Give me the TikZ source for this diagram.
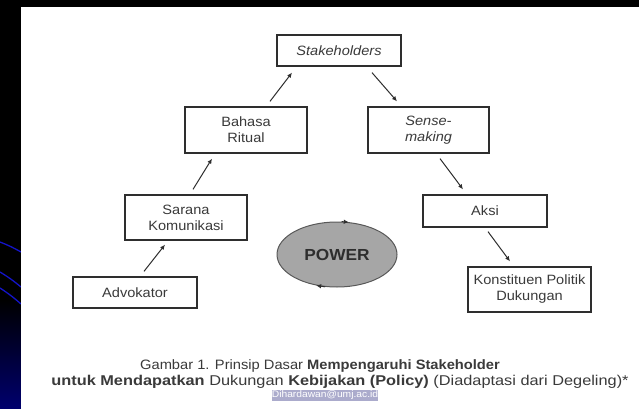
\documentclass[tikz,border=0pt]{standalone}
\usepackage{fontspec}
\setmainfont{Liberation Sans}
\usetikzlibrary{shapes.geometric,arrows.meta}
\definecolor{ink}{HTML}{3A3A3A}
\definecolor{frame}{HTML}{2E2E2E}
\definecolor{powerfill}{HTML}{A6A6A6}
\definecolor{navy}{HTML}{00006E}
\definecolor{curve}{HTML}{1414C8}
\definecolor{tag}{HTML}{A4A4C8}
\newfontfamily\widefont[FakeStretch=1.08]{Liberation Sans}
\newfontfamily\capfont[FakeStretch=1.15]{Liberation Sans}
\begin{document}
\begin{tikzpicture}[x=1pt,y=-1pt,
  box/.style={draw=frame,line width=1.3pt,fill=white,inner sep=0pt,align=center,
    text=ink,font=\widefont\fontsize{13.5}{16}\selectfont},
  conn/.style={draw=frame,line width=1pt,-{Latex[length=5pt,width=4.5pt]}},
  captext/.style={text=ink,inner sep=0pt},
  arc tip/.style={draw=frame,line width=0.9pt,-{Latex[length=5pt,width=4.5pt]}}
]
\useasboundingbox (0,0) rectangle (639,409);
% slide background with its blue swooshes
\fill[black] (0,0) rectangle (639,409);
\shade[top color=black,bottom color=navy] (0,300) rectangle (21,409);
\draw[curve,line width=1.3pt] (0,242) to[bend left=4] (21,252);
\draw[curve,line width=1.3pt] (0,272) to[bend left=4] (21,287);
\draw[curve,line width=1.3pt] (0,288) to[bend left=4] (21,304);
% white figure panel
\fill[white] (21,7) rectangle (639,409);

% boxes
\node[box,minimum width=124pt,minimum height=31pt] (stk) at (339,50.5) {\itshape Stakeholders};
\node[box,minimum width=122pt,minimum height=46pt] (bah) at (246,130) {Bahasa\\Ritual};
\node[box,minimum width=121pt,minimum height=46pt] (sen) at (428.5,130) {\itshape Sense-\\\itshape making};
\node[box,minimum width=122pt,minimum height=45pt] (sar) at (186,217.5) {Sarana\\Komunikasi};
\node[box,minimum width=124pt,minimum height=31pt] (adv) at (135,292.5) {Advokator};
\node[box,minimum width=124pt,minimum height=32pt] (aks) at (485,211) {Aksi};
\node[box,minimum width=123pt,minimum height=45pt] (kon) at (529.5,289.5) {Konstituen Politik\\Dukungan};
\node[ellipse,draw=frame!80,line width=1pt,fill=powerfill,minimum width=120pt,minimum height=65pt,
  inner sep=0pt,text=frame,font=\widefont\fontsize{16}{18}\selectfont\bfseries] (pw) at (337,254.5) {POWER};

% connectors
\draw[conn] ([xshift=9pt,yshift=5pt]adv.north) -- ([xshift=-21pt,yshift=-4pt]sar.south);
\draw[conn] ([xshift=7pt,yshift=5pt]sar.north) -- ([xshift=-34pt,yshift=-5pt]bah.south);
\draw[conn] ([xshift=24pt,yshift=5pt]bah.north) -- ([xshift=-47pt,yshift=-6pt]stk.south);
\draw[conn] ([xshift=33pt,yshift=-6pt]stk.south) -- ([xshift=-31.5pt,yshift=5pt]sen.north);
\draw[conn] ([xshift=11.5pt,yshift=-5pt]sen.south) -- ([xshift=-22pt,yshift=5pt]aks.north);
\draw[conn] ([xshift=3pt,yshift=-4pt]aks.south) -- ([xshift=-19.5pt,yshift=5pt]kon.north);

% circulation marks on the ellipse
\draw[arc tip] (pw.82) -- (pw.70);
\draw[arc tip] (pw.250) -- (pw.236);

% caption
\node[captext,font=\widefont\fontsize{13.6}{15}\selectfont] (c1) at (320,366)
  {Gambar 1. Prinsip Dasar \textbf{Mempengaruhi Stakeholder}};
\node[captext,font=\capfont\fontsize{14.2}{15}\selectfont] (c2) at (340,382)
  {\textbf{untuk Mendapatkan} Dukungan \textbf{Kebijakan (Policy)} (Diadaptasi dari Degeling)*};
\node[fill=tag,fill opacity=0.92,text opacity=1,text=white,inner sep=0pt,minimum width=106pt,minimum height=11pt,
  font=\widefont\fontsize{9.5}{10}\selectfont] (wm) at (325,395) {Dihardawan@umj.ac.id};
\end{tikzpicture}
\end{document}
